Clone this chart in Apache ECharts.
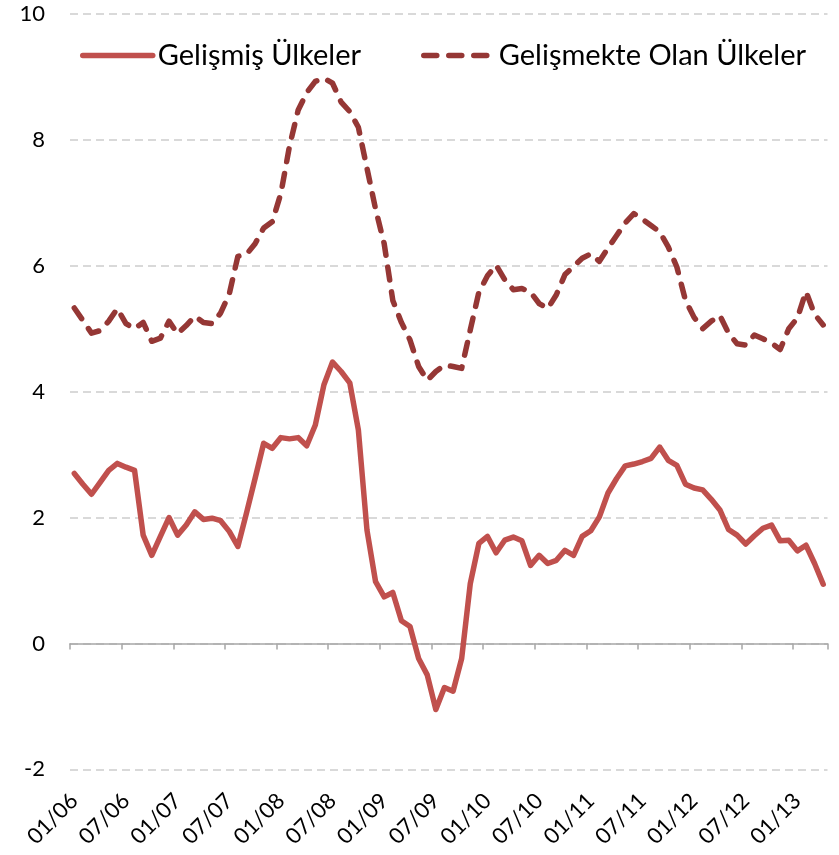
<!DOCTYPE html>
<html>
<head>
<meta charset="utf-8">
<script src="https://cdn.jsdelivr.net/npm/echarts@6/dist/echarts.min.js"></script>
<style>
html,body{margin:0;padding:0;background:#fff;}
#chart{width:839px;height:855px;}
</style>
</head>
<body>
<div id="chart"></div>
<script>
// Monthly categories 01/06 .. 04/13
const categories = [
  "01/06","02/06","03/06","04/06","05/06","06/06","07/06","08/06","09/06","10/06","11/06","12/06",
  "01/07","02/07","03/07","04/07","05/07","06/07","07/07","08/07","09/07","10/07","11/07","12/07",
  "01/08","02/08","03/08","04/08","05/08","06/08","07/08","08/08","09/08","10/08","11/08","12/08",
  "01/09","02/09","03/09","04/09","05/09","06/09","07/09","08/09","09/09","10/09","11/09","12/09",
  "01/10","02/10","03/10","04/10","05/10","06/10","07/10","08/10","09/10","10/10","11/10","12/10",
  "01/11","02/11","03/11","04/11","05/11","06/11","07/11","08/11","09/11","10/11","11/11","12/11",
  "01/12","02/12","03/12","04/12","05/12","06/12","07/12","08/12","09/12","10/12","11/12","12/12",
  "01/13","02/13","03/13","04/13"
];

const seriesNames = ["Gelişmiş Ülkeler", "Gelişmekte Olan Ülkeler"];

const developed = [
  2.70,2.53,2.37,2.56,2.75,2.86,2.80,2.75,1.72,1.40,1.70,2.00,
  1.72,1.88,2.09,1.97,1.99,1.95,1.78,1.54,2.07,2.62,3.18,3.10,
  3.27,3.25,3.27,3.14,3.47,4.11,4.47,4.32,4.14,3.39,1.80,0.98,
  0.74,0.81,0.36,0.27,-0.24,-0.50,-1.05,-0.70,-0.76,-0.24,0.95,1.59,
  1.70,1.44,1.64,1.69,1.63,1.24,1.40,1.27,1.32,1.48,1.40,1.70,
  1.79,2.01,2.39,2.62,2.82,2.85,2.89,2.94,3.12,2.91,2.83,2.53,
  2.47,2.44,2.29,2.12,1.81,1.72,1.58,1.71,1.83,1.88,1.63,1.64,
  1.47,1.56,1.27,0.94
];

const developing = [
  5.33,5.13,4.93,4.97,5.12,5.32,5.08,5.00,5.10,4.80,4.85,5.12,
  4.92,5.05,5.20,5.10,5.08,5.25,5.55,6.15,6.18,6.35,6.60,6.70,
  7.15,7.90,8.47,8.75,8.93,8.98,8.90,8.60,8.45,8.20,7.55,6.90,
  6.35,5.45,5.10,4.82,4.40,4.18,4.32,4.42,4.40,4.37,4.98,5.58,
  5.84,6.01,5.78,5.62,5.64,5.58,5.40,5.32,5.54,5.86,5.99,6.12,
  6.19,6.07,6.28,6.48,6.68,6.83,6.74,6.64,6.54,6.30,5.98,5.45,
  5.18,5.00,5.12,5.21,4.93,4.76,4.74,4.90,4.84,4.77,4.67,5.00,
  5.17,5.59,5.23,5.06
];

const yTicks = { min: -2, max: 10, interval: 2 };

const FONT = "Lato";
const chart = echarts.init(document.getElementById('chart'), null, {renderer: 'canvas'});
chart.setOption({
  animation: false,
  backgroundColor: '#ffffff',
  grid: { left: 70, right: 11.5, top: 14, bottom: 85.7, containLabel: false },
  legend: {
    left: 75, top: 36,
    itemWidth: 70, itemHeight: 16, itemGap: 60,
    itemStyle: { opacity: 0 },
    lineStyle: { width: 5.5, cap: 'round' },
    textStyle: { fontFamily: FONT, fontSize: 29, color: '#000' },
    data: seriesNames
  },
  xAxis: [
    {
      type: 'category', data: categories, boundaryGap: true,
      axisLine: { show: true, onZero: true, lineStyle: { color: '#A6A6A6', width: 1.5 } },
      axisTick: { show: true, interval: 5, length: 6, lineStyle: { color: '#A6A6A6', width: 1.5 } },
      axisLabel: { show: false },
      splitLine: { show: false }
    },
    {
      type: 'category', data: categories, boundaryGap: true, position: 'bottom',
      axisLine: { show: false, onZero: false },
      axisTick: { show: false },
      axisLabel: { show: true, interval: 5, rotate: 45, margin: 28,
        fontFamily: FONT, fontSize: 22, color: '#000' },
      splitLine: { show: false }
    }
  ],
  yAxis: {
    type: 'value', min: yTicks.min, max: yTicks.max, interval: yTicks.interval,
    axisLine: { show: false }, axisTick: { show: false },
    axisLabel: { fontFamily: FONT, fontSize: 22, color: '#000', margin: 25 },
    splitLine: { show: true, lineStyle: { color: '#D9D9D9', width: 2, type: [8, 5] } }
  },
  series: [
    {
      name: seriesNames[0], type: 'line', data: developed, xAxisIndex: 0,
      symbol: 'none', smooth: false,
      lineStyle: { color: '#C0504D', width: 5.5, join: 'round', cap: 'round' },
      itemStyle: { color: '#C0504D' }
    },
    {
      name: seriesNames[1], type: 'line', data: developing, xAxisIndex: 0,
      symbol: 'none', smooth: false,
      lineStyle: { color: '#953735', width: 5.5, type: [13, 12], join: 'round', cap: 'round' },
      itemStyle: { color: '#953735' }
    }
  ]
});
</script>
</body>
</html>
